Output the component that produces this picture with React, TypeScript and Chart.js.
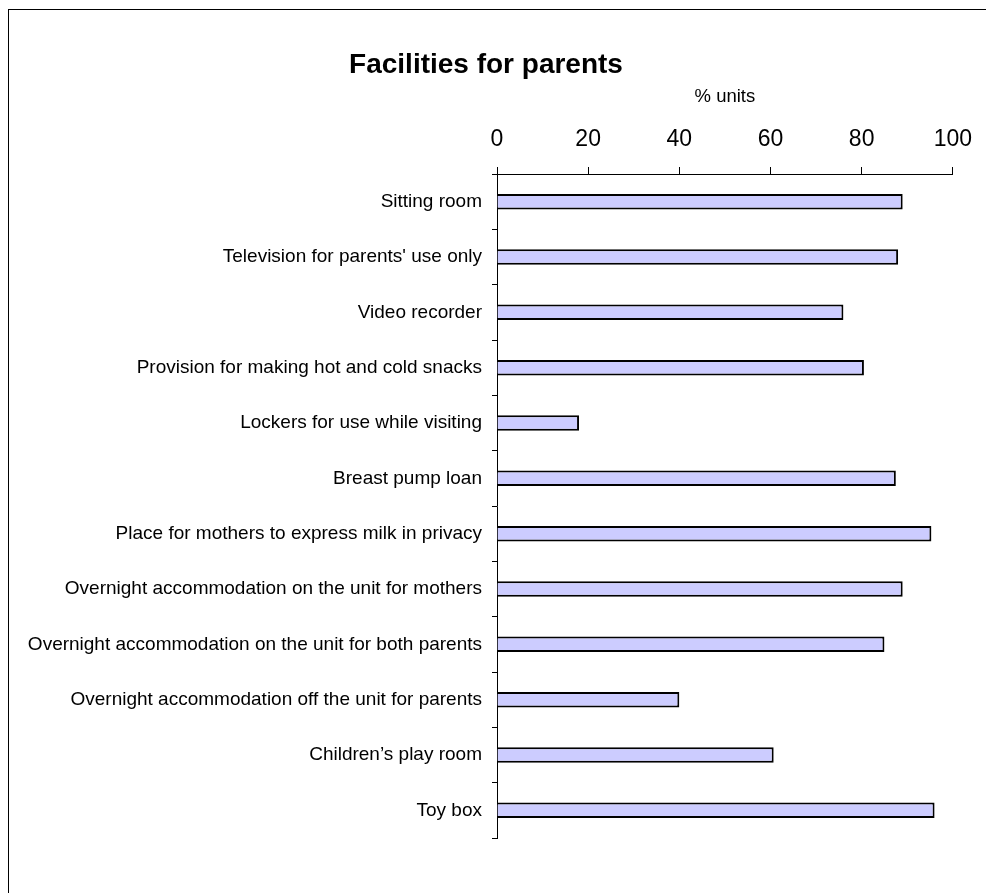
import React, { useEffect, useRef } from "react";
import { Chart, registerables } from "chart.js";

Chart.register(...registerables);

const TITLE = "Facilities for parents";
const AXIS_TITLE = "% units";
const categories = [
  "Sitting room",
  "Television for parents' use only",
  "Video recorder",
  "Provision for making hot and cold snacks",
  "Lockers for use while visiting",
  "Breast pump loan",
  "Place for mothers to express milk in privacy",
  "Overnight accommodation on the unit for mothers",
  "Overnight accommodation on the unit for both parents",
  "Overnight accommodation off the unit for parents",
  "Children\u2019s play room",
  "Toy box",
];
const values = [89, 88, 76, 80.5, 18, 87.5, 95.3, 89, 85, 40, 60.7, 96];
const xMin = 0;
const xMax = 100;
const xStep = 20;

const FONT = '"Liberation Sans", Arial, sans-serif';

const titlePlugin = {
  id: "pageTitle",
  afterDraw(chart: any) {
    const ctx = chart.ctx;
    ctx.save();
    ctx.font = `bold 28px ${FONT}`;
    ctx.fillStyle = "#000";
    ctx.textAlign = "center";
    ctx.textBaseline = "alphabetic";
    ctx.fillText(TITLE, 477, 63);
    ctx.restore();
  },
};

export default function App() {
  const ref = useRef<HTMLCanvasElement | null>(null);

  useEffect(() => {
    if (!ref.current) return;
    const chart = new Chart(ref.current, {
      type: "bar",
      data: {
        labels: categories,
        datasets: [
          {
            data: values,
            backgroundColor: "#CCCCFF",
            borderColor: "#000000",
            borderWidth: 2,
            barPercentage: 0.28,
            categoryPercentage: 1,
          },
        ],
      },
      options: {
        indexAxis: "y",
        responsive: false,
        animation: false,
        devicePixelRatio: 1,
        layout: { padding: { top: 0, left: 0, right: 31, bottom: 55 } },
        plugins: {
          legend: { display: false },
          tooltip: { enabled: false },
          title: { display: false },
        },
        scales: {
          x: {
            type: "linear",
            position: "top",
            min: xMin,
            max: xMax,
            afterFit: (scale: any) => {
              scale.height = 164;
            },
            ticks: {
              stepSize: xStep,
              color: "#000",
              font: { family: FONT, size: 23 },
              padding: 14,
            },
            grid: {
              drawOnChartArea: false,
              drawTicks: true,
              tickLength: 7,
              color: "#000",
            },
            border: { display: true, color: "#000", width: 1 },
            title: {
              display: true,
              text: AXIS_TITLE,
              color: "#000",
              font: { family: FONT, size: 18.5 },
              padding: { top: 76, bottom: 0 },
            },
          },
          y: {
            type: "category",
            offset: true,
            afterFit: (scale: any) => {
              scale.width = 488;
            },
            ticks: {
              color: "#000",
              font: { family: FONT, size: 19 },
              padding: 10,
              autoSkip: false,
            },
            grid: {
              offset: true,
              drawOnChartArea: false,
              drawTicks: true,
              tickLength: 5,
              color: "#000",
            },
            border: { display: true, color: "#000", width: 1 },
          },
        },
      },
      plugins: [titlePlugin],
    } as any);
    return () => chart.destroy();
  }, []);

  return (
    <div
      style={{
        position: "fixed",
        left: 8,
        top: 9,
        width: 977,
        height: 883,
        borderLeft: "1px solid #000",
        borderTop: "1px solid #000",
        background: "#fff",
      }}
    >
      <canvas ref={ref} width={977} height={883} style={{ display: "block" }} />
    </div>
  );
}
